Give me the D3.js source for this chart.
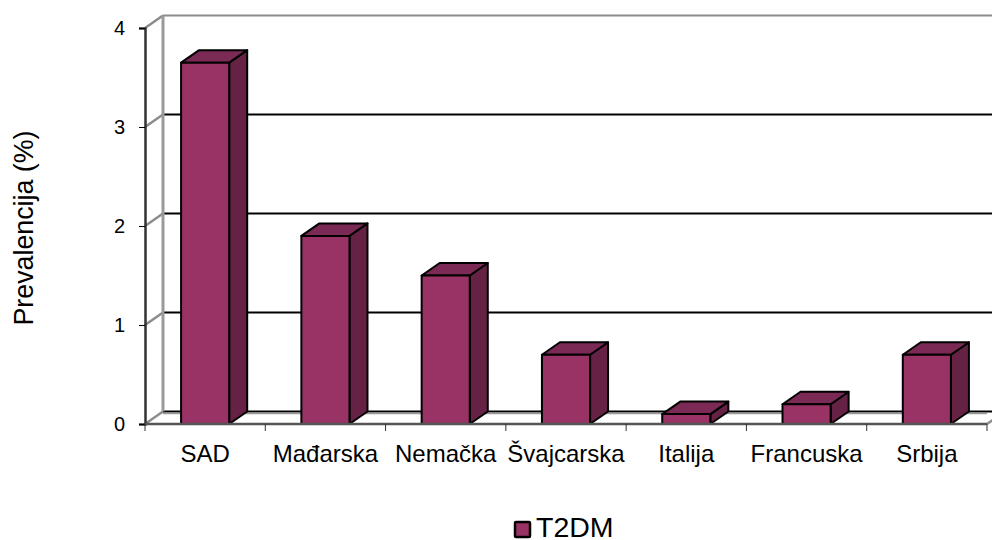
<!DOCTYPE html>
<html>
<head>
<meta charset="utf-8">
<script src="https://cdn.jsdelivr.net/npm/d3@7"></script>
<style>
  html, body { margin: 0; padding: 0; background: #fff; }
  svg { display: block; font-family: "Liberation Sans", Arial, sans-serif; }
</style>
</head>
<body>
<div id="chart"></div>
<script>
var categories = ["SAD", "Mađarska", "Nemačka", "Švajcarska", "Italija", "Francuska", "Srbija"];
var values = [3.65, 1.9, 1.5, 0.7, 0.1, 0.2, 0.7];
var yTicks = [0, 1, 2, 3, 4];
var seriesName = "T2DM";
var yTitle = "Prevalencija (%)";

var width = 992,
    height = 540;

// front plane of the fake 3d box, back wall is shifted by depth
var margin = {left: 145, right: 5, top: 28, bottom: 116};
var depth = {x: 18, y: -12.5};

var svg = d3.select("#chart")
    .append("svg")
    .attr("width", width)
    .attr("height", height);

var x = d3.scaleBand()
    .domain(categories)
    .range([margin.left, width - margin.right])
    .paddingInner(0.6)
    .paddingOuter(0.3);

var y = d3.scaleLinear()
    .domain([0, 4])
    .range([height - margin.bottom, margin.top]);

var x0 = margin.left,
    x1 = width - margin.right;

// walls
var wall = svg.append("g");

// gridlines on back wall and the short diagonal on the side wall
var grid = wall.selectAll(".grid")
    .data(yTicks)
    .enter()
    .append("g")
    .attr("class", "grid");

grid.append("line")
    .attr("x1", x0)
    .attr("y1", d => y(d))
    .attr("x2", x0 + depth.x)
    .attr("y2", d => y(d) + depth.y)
    .attr("stroke", "#8c8c8c")
    .attr("stroke-width", 2.5);

grid.append("line")
    .attr("x1", x0 + depth.x)
    .attr("y1", d => y(d) + depth.y)
    .attr("x2", width)
    .attr("y2", d => y(d) + depth.y)
    .attr("stroke", d => d == 4 ? "#8c8c8c" : "#000")
    .attr("stroke-width", 2.2);

// gray edge under the floor line
wall.append("line")
    .attr("x1", x0 + depth.x)
    .attr("y1", y(0) + depth.y + 2)
    .attr("x2", x1)
    .attr("y2", y(0) + depth.y + 2)
    .attr("stroke", "#9a9a9a")
    .attr("stroke-width", 1.5);

// back vertical edge
wall.append("line")
    .attr("x1", x0 + depth.x)
    .attr("y1", y(4) + depth.y)
    .attr("x2", x0 + depth.x)
    .attr("y2", y(0) + depth.y)
    .attr("stroke", "#9a9a9a")
    .attr("stroke-width", 3);

// floor right diagonal
wall.append("line")
    .attr("x1", x1)
    .attr("y1", y(0))
    .attr("x2", x1 + depth.x)
    .attr("y2", y(0) + depth.y)
    .attr("stroke", "#8c8c8c")
    .attr("stroke-width", 2.5);

// bars
var bar = svg.selectAll(".bar")
    .data(values)
    .enter()
    .append("g")
    .attr("class", "bar")
    .attr("stroke", "#000")
    .attr("stroke-width", 2)
    .attr("stroke-linejoin", "round");

function barLeft(d, i) { return x(categories[i]); }
function barRight(d, i) { return x(categories[i]) + x.bandwidth(); }

bar.append("path")
    .attr("fill", "#662244")
    .attr("d", function(d, i) {
      var p = d3.path(), r = barRight(d, i);
      p.moveTo(r, y(d));
      p.lineTo(r + depth.x, y(d) + depth.y);
      p.lineTo(r + depth.x, y(0) + depth.y);
      p.lineTo(r, y(0));
      p.closePath();
      return p.toString();
    });

bar.append("path")
    .attr("fill", "#7a2a55")
    .attr("d", function(d, i) {
      var p = d3.path(), l = barLeft(d, i), r = barRight(d, i);
      p.moveTo(l, y(d));
      p.lineTo(l + depth.x, y(d) + depth.y);
      p.lineTo(r + depth.x, y(d) + depth.y);
      p.lineTo(r, y(d));
      p.closePath();
      return p.toString();
    });

bar.append("rect")
    .attr("fill", "#993366")
    .attr("x", barLeft)
    .attr("y", d => y(d))
    .attr("width", x.bandwidth())
    .attr("height", d => y(0) - y(d));

// axes
var yAxis = d3.axisLeft(y)
    .tickValues(yTicks)
    .tickFormat(d3.format("d"))
    .tickSize(6)
    .tickPadding(14);

var yG = svg.append("g")
    .attr("transform", `translate(${x0},0)`)
    .call(yAxis);

yG.select(".domain").attr("stroke", "#333").attr("stroke-width", 2.5);
yG.selectAll("text").attr("font-size", 20).attr("fill", "#000").attr("font-family", "Liberation Sans");

var xG = svg.append("g")
    .attr("transform", `translate(0,${y(0)})`);

xG.append("line")
    .attr("x1", x0)
    .attr("x2", x1)
    .attr("stroke", "#555")
    .attr("stroke-width", 2.5);

var step = (x1 - x0) / categories.length;

xG.selectAll(".tick")
    .data(d3.range(categories.length + 1))
    .enter()
    .append("line")
    .attr("class", "tick")
    .attr("x1", d => x0 + d * step)
    .attr("x2", d => x0 + d * step)
    .attr("y1", 0)
    .attr("y2", 7)
    .attr("stroke", "#333");

xG.selectAll(".label")
    .data(categories)
    .enter()
    .append("text")
    .attr("class", "label")
    .attr("x", d => x(d) + x.bandwidth() / 2)
    .attr("y", 38)
    .attr("text-anchor", "middle")
    .attr("font-size", 24)
    .text(d => d);

// y title
svg.append("text")
    .attr("transform", `translate(33,228) rotate(-90)`)
    .attr("text-anchor", "middle")
    .attr("font-size", 26.8)
    .text(yTitle);

// legend
var legend = svg.append("g").attr("class", "legend");

legend.append("rect")
    .attr("x", 515)
    .attr("y", 522)
    .attr("width", 15)
    .attr("height", 15)
    .attr("rx", 1)
    .attr("fill", "#993366")
    .attr("stroke", "#000")
    .attr("stroke-width", 2.5);

legend.append("text")
    .attr("x", 536)
    .attr("y", 537)
    .attr("font-size", 28.5)
    .text(seriesName);
</script>
</body>
</html>
